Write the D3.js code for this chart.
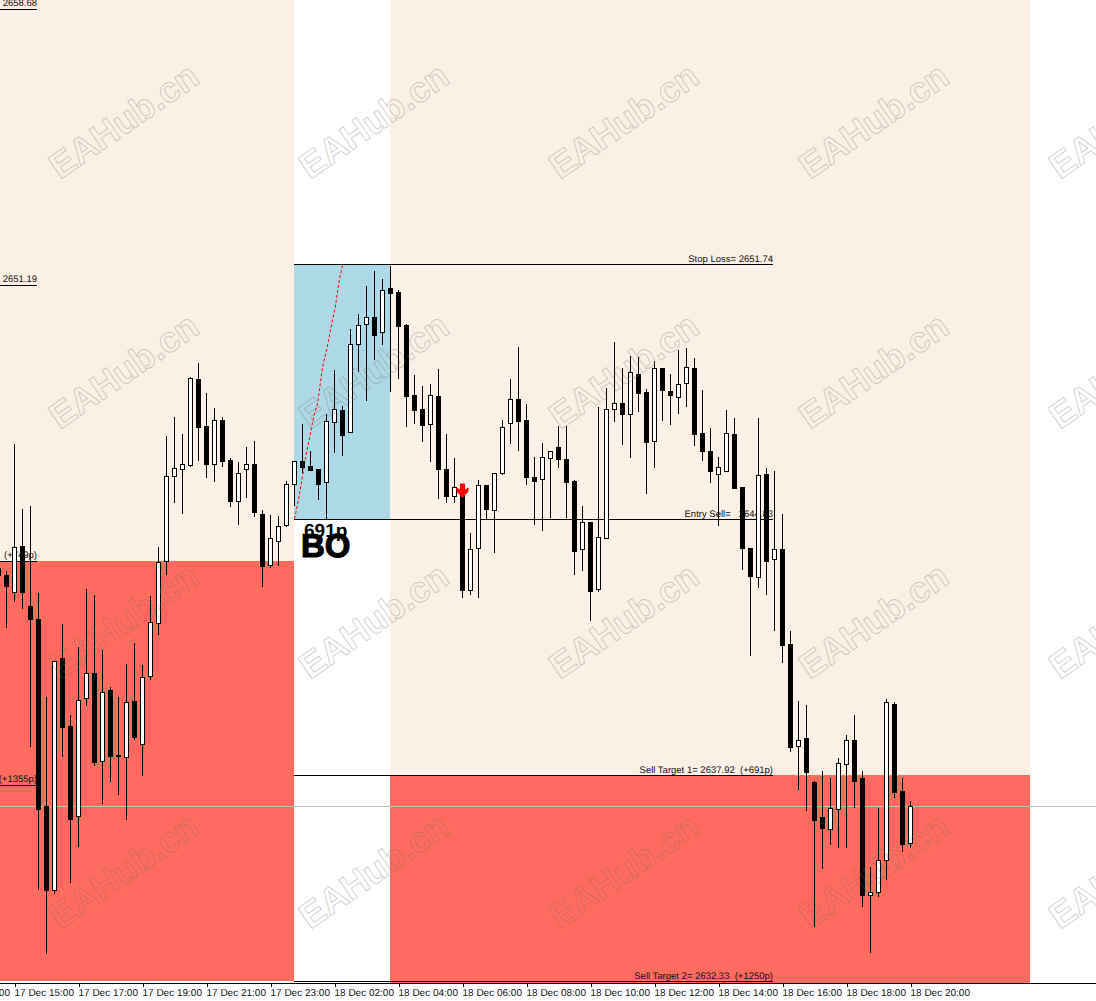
<!DOCTYPE html>
<html>
<head>
<meta charset="utf-8">
<script src="https://cdn.jsdelivr.net/npm/d3@7"></script>
<style>
  html, body { margin: 0; padding: 0; background: #fff; }
  svg { display: block; }
  text { font-family: "Liberation Sans", sans-serif; white-space: pre; text-rendering: geometricPrecision; }
</style>
</head>
<body>
<svg id="svg" width="1096" height="1001"></svg>
<script>
// XAUUSD 15 min bars, first bar sits one slot left of bar 0
const firstBar = -1;
const opens = [2643.52,2643.33,2642.88,2644.13,2642.50,2642.15,2637.08,2634.80,2641.09,2639.24,2636.81,2640.00,2640.68,2638.30,2640.22,2638.46,2638.41,2639.92,2638.76,2640.60,2642.04,2643.71,2646.02,2646.21,2646.31,2648.65,2647.38,2646.34,2647.54,2646.45,2645.34,2646.21,2646.34,2644.99,2643.60,2644.26,2644.69,2645.80,2646.43,2646.29,2646.21,2645.86,2647.49,2647.81,2647.22,2649.60,2650.14,2650.33,2649.92,2651.11,2651.00,2650.11,2648.21,2647.84,2647.43,2648.19,2646.21,2645.48,2645.64,2642.93,2644.07,2645.78,2645.10,2646.10,2647.46,2648.11,2647.54,2645.99,2645.94,2646.51,2646.81,2646.48,2645.88,2644.05,2644.78,2642.96,2644.34,2647.84,2648.00,2647.70,2648.78,2648.30,2646.97,2648.95,2648.32,2648.16,2648.54,2648.95,2647.19,2646.70,2646.07,2646.15,2647.16,2645.72,2644.07,2643.28,2646.07,2643.77,2644.05,2641.47,2638.71,2638.92,2637.73,2636.78,2636.45,2637.00,2638.21,2638.87,2637.84,2634.67,2634.75,2635.61,2639.84,2637.49,2636.08];
const highs = [2643.74,2643.47,2646.92,2645.15,2645.23,2642.88,2640.06,2634.80,2642.04,2639.57,2641.42,2642.98,2642.82,2641.33,2640.33,2640.06,2640.95,2641.52,2640.92,2642.80,2644.13,2647.13,2647.65,2647.19,2648.73,2649.11,2648.30,2647.89,2647.65,2646.53,2646.43,2646.84,2647.00,2645.13,2644.99,2644.96,2645.91,2646.45,2647.46,2646.73,2646.21,2647.73,2648.92,2647.94,2650.03,2650.44,2651.19,2651.60,2651.38,2651.74,2651.09,2650.17,2648.78,2648.49,2648.54,2648.95,2647.19,2646.53,2645.83,2644.50,2645.94,2645.80,2646.13,2647.57,2648.67,2649.55,2648.00,2646.56,2646.95,2646.70,2647.40,2647.40,2645.94,2645.23,2644.78,2647.92,2648.43,2649.68,2648.97,2649.30,2649.27,2648.41,2649.16,2648.95,2648.81,2649.46,2649.52,2649.24,2648.38,2647.35,2646.56,2647.84,2647.62,2645.72,2644.10,2647.62,2646.26,2646.18,2645.02,2641.85,2639.95,2639.84,2637.78,2638.05,2637.86,2638.40,2639.03,2639.57,2638.05,2635.45,2637.05,2640.00,2639.92,2637.86,2637.24];
const lows = [2643.20,2641.93,2642.63,2642.44,2638.71,2634.83,2633.10,2634.72,2638.44,2635.02,2636.00,2639.81,2638.19,2637.16,2637.75,2637.40,2636.73,2638.90,2637.92,2640.52,2641.74,2643.36,2645.32,2645.02,2646.29,2646.45,2645.99,2645.88,2646.29,2645.21,2644.72,2645.45,2644.94,2643.04,2643.55,2643.60,2644.67,2645.23,2646.13,2646.18,2645.40,2644.86,2646.67,2646.59,2647.22,2648.87,2648.08,2649.19,2649.60,2648.32,2648.67,2647.38,2647.46,2646.97,2646.43,2645.42,2645.32,2645.32,2642.74,2642.82,2642.74,2644.86,2643.97,2646.07,2646.92,2646.73,2645.80,2644.72,2644.56,2644.91,2646.26,2644.91,2643.36,2643.47,2642.12,2642.90,2644.34,2647.51,2646.89,2646.53,2647.78,2645.56,2646.26,2647.54,2647.43,2647.73,2647.92,2646.87,2646.45,2645.86,2644.69,2646.15,2645.70,2643.50,2641.17,2643.01,2642.82,2641.85,2640.98,2638.57,2637.54,2636.97,2633.83,2635.40,2636.03,2635.97,2635.95,2637.05,2634.37,2633.12,2634.64,2635.10,2637.32,2635.86,2635.95];
const closes = [2643.33,2643.04,2644.10,2642.88,2642.15,2637.00,2634.80,2641.00,2639.22,2636.73,2639.95,2640.68,2638.27,2640.17,2638.44,2638.44,2639.90,2638.95,2640.57,2642.06,2643.69,2646.02,2646.24,2646.34,2648.67,2647.35,2646.34,2647.54,2646.43,2645.34,2646.10,2646.34,2645.05,2643.58,2644.34,2644.67,2645.80,2646.43,2646.26,2646.18,2645.80,2647.51,2647.84,2647.13,2649.60,2650.11,2650.33,2649.84,2651.06,2650.98,2650.08,2648.19,2647.81,2647.40,2648.21,2646.21,2645.48,2645.72,2642.93,2644.05,2645.78,2645.13,2646.10,2647.35,2648.11,2647.51,2645.99,2645.88,2646.53,2646.70,2646.48,2645.86,2643.99,2644.78,2642.90,2644.37,2647.84,2648.00,2647.70,2648.84,2648.27,2646.95,2648.95,2648.35,2648.21,2648.51,2648.97,2647.16,2646.70,2646.15,2646.26,2647.19,2645.70,2644.07,2643.31,2646.05,2643.71,2644.05,2641.44,2638.68,2638.87,2638.00,2636.70,2636.48,2637.02,2638.24,2638.87,2637.75,2634.67,2634.75,2635.61,2639.90,2637.46,2636.03,2637.08];

const tickBars = [-7,1,9,17,25,33,41,49,57,65,73,81,89,97,105,113];
const tickLabels = ['17 Dec 13:00','17 Dec 15:00','17 Dec 17:00','17 Dec 19:00','17 Dec 21:00','17 Dec 23:00','18 Dec 02:00','18 Dec 04:00','18 Dec 06:00','18 Dec 08:00','18 Dec 10:00','18 Dec 12:00','18 Dec 14:00','18 Dec 16:00','18 Dec 18:00','18 Dec 20:00'];

// zone boundaries (bars and prices)
const boxBars = [36, 48];
const stopLoss = 2651.74, entrySell = 2644.83, target1 = 2637.92, target2 = 2632.33;
const prevLevels = [2658.68, 2651.19, 2643.71, 2637.64];
const prevLabels = ['2658.68', '2651.19', '(+749p)', '(+1355p)'];
const levelLabels = ['Stop Loss= 2651.74', 'Entry Sell=   2644.83', 'Sell Target 1= 2637.92  (+691p)', 'Sell Target 2= 2632.33  (+1250p)'];
const bidPrice = 2637.08;
const dashBars = [36,36.5,37.4,38.4,38.9,39.5,40.1,40.75,41.1,41.6,42];
const dashPrices = [2644.86,2645.37,2646.53,2647.62,2648.00,2648.97,2649.52,2650.25,2650.60,2651.33,2651.74];
const arrowBar = 57, arrowPrice = 2645.60;

const width = 1096, axisY = 983;
const beige = '#FAF0E6', salmon = '#FF6B5E', blue = '#ADD8E6';

const x = d3.scaleLinear().domain([0, 113]).range([6.5, 910.5]);
const y = d3.scaleLinear().domain([2658.92, 2632.33]).range([0, 981]);
const row = p => Math.round(y(p)) + 0.5;
// the trade levels sit on their own grid, a touch off the candle rows
const levelY = d3.scaleLinear().domain([stopLoss, target1]).range([264, 775]);
const levelRow = p => Math.floor(levelY(p)) + 0.5;

const svg = d3.select('#svg');
const zoneRight = 1030;

// background zones
function zone(x0, x1, y0, y1, color){
  svg.append('rect').attr('x', x0).attr('y', y0).attr('width', x1 - x0).attr('height', y1 - y0).attr('fill', color);
}
const boxL = x(boxBars[0]) - 0.5, boxR = x(boxBars[1]) - 0.5;
zone(0, boxL, 0, Math.round(y(prevLevels[2])), beige);
zone(0, boxL, Math.round(y(prevLevels[2])), y(target2), salmon);
zone(boxR, zoneRight, 0, levelRow(target1) - 0.5, beige);
zone(boxR, zoneRight, levelRow(target1) - 0.5, axisY, salmon);
zone(boxL, boxR, levelRow(stopLoss), levelRow(entrySell), blue);

// current price line
svg.append('line').attr('x1', 0).attr('x2', width).attr('y1', row(bidPrice)).attr('y2', row(bidPrice)).attr('stroke', '#C0C0C0');

// level lines with their labels
const lineEnd = 773;
[stopLoss, entrySell, target1, target2].forEach((p, i) => {
  svg.append('line').attr('x1', boxL).attr('x2', lineEnd).attr('y1', levelRow(p)).attr('y2', levelRow(p)).attr('stroke', '#000');
  svg.append('text').attr('x', lineEnd).attr('y', levelRow(p) - 3).attr('text-anchor', 'end')
    .attr('font-size', 9.5).attr('fill', '#111').text(levelLabels[i]);
});
prevLevels.forEach((p, i) => {
  svg.append('line').attr('x1', 0).attr('x2', 37).attr('y1', row(p)).attr('y2', row(p)).attr('stroke', '#000');
  svg.append('text').attr('x', 37).attr('y', row(p) - 3.5).attr('text-anchor', 'end')
    .attr('font-size', 9.5).attr('fill', '#111').text(prevLabels[i]);
});

// red projection line
const dashLine = d3.line().x((d, i) => x(dashBars[i])).y(d => y(d));
svg.append('path').attr('d', dashLine(dashPrices)).attr('fill', 'none').attr('stroke', '#FF0000')
  .attr('stroke-width', 1).attr('stroke-dasharray', '3,2');

// BO tag under the box
svg.append('text').attr('x', 304).attr('y', 537).attr('font-size', 19).attr('font-weight', 'bold').text('691p');
svg.append('text').attr('x', 301).attr('y', 557).attr('font-size', 33).attr('font-weight', 'bold')
  .attr('stroke', '#000').attr('stroke-width', 1.2).text('BO');

// candles
const bars = d3.range(opens.length);
const candle = svg.append('g').attr('shape-rendering', 'crispEdges');
bars.forEach(i => {
  const cx = x(i + firstBar), up = closes[i] > opens[i];
  const top = row(Math.max(opens[i], closes[i])), bot = row(Math.min(opens[i], closes[i]));
  candle.append('line').attr('x1', cx).attr('x2', cx).attr('y1', row(highs[i])).attr('y2', row(lows[i])).attr('stroke', '#000');
  if (up)
    candle.append('rect').attr('x', cx - 2).attr('y', top).attr('width', 4).attr('height', bot - top)
      .attr('fill', '#fff').attr('stroke', '#000');
  else
    candle.append('rect').attr('x', cx - 2.5).attr('y', top - 0.5).attr('width', 5).attr('height', bot - top + 1)
      .attr('fill', '#000');
});

// sell arrow
svg.append('path')
  .attr('transform', 'translate(' + x(arrowBar) + ',' + y(arrowPrice) + ')')
  .attr('d', 'M-2.5,-8 L2.5,-8 L2.5,-2 L6,-4 L6,0 L0,6.5 L-6,0 L-6,-4 L-2.5,-2 Z')
  .attr('fill', '#FF0000');

// time axis
const axis = d3.axisBottom(x).tickValues(tickBars).tickSize(3).tickSizeOuter(0)
  .tickFormat((d, i) => tickLabels[i]);
const axisG = svg.append('g').attr('transform', 'translate(0,' + (axisY + 0.5) + ')').call(axis);
axisG.select('.domain').remove();
axisG.selectAll('text').attr('text-anchor', 'start').attr('x', -0.5).attr('y', 5.5).attr('dy', '0.71em')
  .attr('font-size', 10).style('font-family', '"Liberation Sans"').attr('fill', '#111');
axisG.selectAll('.tick line').attr('shape-rendering', 'crispEdges');
svg.append('line').attr('x1', 0).attr('x2', width).attr('y1', axisY + 0.5).attr('y2', axisY + 0.5).attr('stroke', '#000');

// watermark grid
d3.range(4).forEach(r => d3.range(5).forEach(c => {
  svg.append('text')
    .attr('transform', 'translate(' + (60 + 250 * c) + ',' + (180 + 250 * r) + ') rotate(-34.7)')
    .attr('font-size', 36).attr('font-weight', 'bold')
    .attr('fill', 'none').attr('stroke', 'rgba(120,110,100,0.32)').attr('stroke-width', 1).text('EAHub.cn');
}));
</script>
</body>
</html>
